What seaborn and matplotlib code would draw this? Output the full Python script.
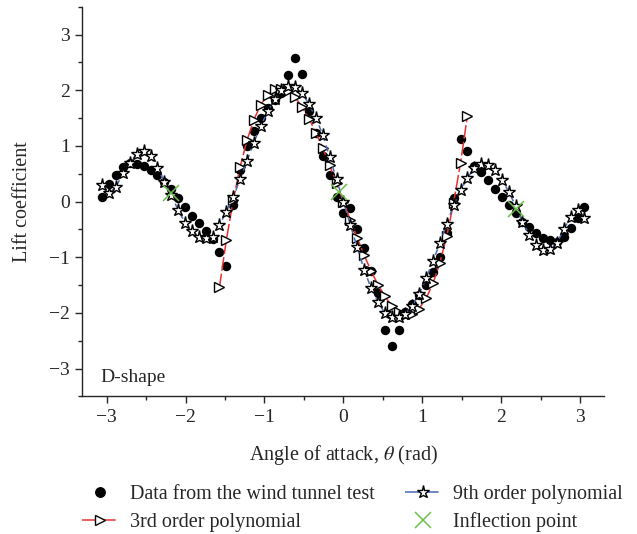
import numpy as np
import matplotlib
matplotlib.use("Agg")
import matplotlib.pyplot as plt
import seaborn as sns
from matplotlib.lines import Line2D
from matplotlib.ticker import MultipleLocator

# angle of attack grid (degrees)
angle_deg = [-175, -170, -165, -160, -155, -150, -145, -140, -135, -130, -125, -120,
             -115, -110, -105, -100, -95, -90, -85, -80, -75, -70, -65, -60,
             -55, -50, -45, -40, -35, -30, -25, -20, -15, -10, -5, 0,
             5, 10, 15, 20, 25, 30, 35, 40, 45, 50, 55, 60,
             65, 70, 75, 80, 85, 90, 95, 100, 105, 110, 115, 120,
             125, 130, 135, 140, 145, 150, 155, 160, 165, 170, 175]

# wind tunnel lift coefficients
cl_tunnel = [0.08, 0.31, 0.48, 0.62, 0.70, 0.68, 0.64, 0.57, 0.48, 0.35, 0.22, 0.06,
             -0.10, -0.25, -0.38, -0.52, -0.67, -0.91, -1.15, -0.06, 0.56, 1.00, 1.26, 1.50,
             1.68, 1.83, 1.95, 2.28, 2.58, 2.30, 1.62, 1.23, 0.82, 0.48, 0.09, -0.21,
             -0.12, -0.50, -0.83, -1.24, -1.64, -2.31, -2.60, -2.30, -1.98, -1.84, -1.68, -1.50,
             -1.26, -0.99, -0.57, 0.06, 1.13, 0.90, 0.64, 0.54, 0.38, 0.23, 0.09, -0.06,
             -0.21, -0.36, -0.46, -0.57, -0.65, -0.69, -0.72, -0.63, -0.48, -0.30, -0.09]

# 9th order polynomial
cl_poly9 = [0.30, 0.15, 0.27, 0.51, 0.70, 0.86, 0.90, 0.81, 0.60, 0.36, 0.12, -0.15,
            -0.38, -0.52, -0.63, -0.66, -0.63, -0.42, -0.18, 0.08, 0.40, 0.73, 1.06, 1.36,
            1.62, 1.85, 2.00, 2.07, 2.05, 1.95, 1.75, 1.50, 1.20, 0.80, 0.40, 0.00,
            -0.42, -0.82, -1.22, -1.55, -1.80, -2.00, -2.08, -2.08, -2.02, -1.87, -1.66, -1.38,
            -1.07, -0.75, -0.40, -0.06, 0.20, 0.42, 0.60, 0.68, 0.66, 0.57, 0.39, 0.18,
            -0.08, -0.36, -0.60, -0.78, -0.87, -0.86, -0.74, -0.50, -0.27, -0.15, -0.30]

# 3rd order polynomial (-90 to 90 degrees)
angle3_deg = [-90, -85, -80, -75, -70, -65, -60, -55, -50, -45, -40, -35, -30,
              -25, -20, -15, -10, -5, 0, 5, 10, 15, 20, 25, 30, 35, 40,
              45, 50, 55, 60, 65, 70, 75, 80, 85, 90]
cl_poly3 = [-1.54, -0.69, 0.02, 0.62, 1.10, 1.47, 1.74, 1.92, 2.02, 2.03, 1.98, 1.87, 1.70,
            1.49, 1.24, 0.96, 0.65, 0.33, 0.00, -0.33, -0.65, -0.96, -1.24, -1.49, -1.70, -1.87, -1.98,
            -2.03, -2.02, -1.92, -1.74, -1.47, -1.10, -0.62, -0.02, 0.69, 1.54]

# inflection points
infl_x = [-2.19, -0.05, 2.19]
infl_y = [0.15, 0.17, -0.14]

RED = "#e8312f"
BLUE = "#4a68b0"
GREEN = "#6cbf4a"

sns.set_style("ticks")
plt.rcParams["font.family"] = ["Liberation Serif", "DejaVu Serif"]
plt.rcParams["mathtext.fontset"] = "stix"

theta = np.deg2rad(angle_deg)
theta3 = np.deg2rad(angle3_deg)

fig = plt.figure(figsize=(6.37, 5.34), dpi=100)
ax = fig.add_axes([0.129, 0.2575, 0.819, 0.73])

sns.scatterplot(x=theta, y=cl_tunnel, ax=ax, color="black", s=46,
                edgecolor="black", linewidth=0, zorder=2)
sns.lineplot(x=theta3, y=cl_poly3, ax=ax, sort=False, color=RED, linewidth=1.1,
             marker=">", markersize=6.5, markerfacecolor="white",
             markeredgecolor="black", markeredgewidth=1.0, zorder=3)
ax.lines[-1].set_dashes((9, 2))
sns.lineplot(x=theta, y=cl_poly9, ax=ax, sort=False, color=BLUE, linewidth=1.1,
             marker="*", markersize=9.5, markerfacecolor="white",
             markeredgecolor="black", markeredgewidth=1.0, zorder=4)
ax.lines[-1].set_dashes((4, 3))
ax.plot(infl_x, infl_y, linestyle="none", marker="x", markersize=12,
        markeredgewidth=1.1, color=GREEN, zorder=5)

ax.set_xlim(-3.31, 3.3)
ax.set_ylim(-3.5, 3.5)
ax.xaxis.set_minor_locator(MultipleLocator(0.5))
ax.yaxis.set_minor_locator(MultipleLocator(0.5))
ax.set_xticks([-3, -2, -1, 0, 1, 2, 3])
ax.set_xticklabels(["\u22123", "\u22122", "\u22121", "0", "1", "2", "3"])
ax.set_yticks([-3, -2, -1, 0, 1, 2, 3])
ax.set_yticklabels(["\u22123", "\u22122", "\u22121", "0", "1", "2", "3"])
ax.tick_params(which="major", direction="out", length=5, width=1, labelsize=14, pad=4)
ax.tick_params(which="minor", direction="out", length=3, width=1)
sns.despine(ax=ax)
for sp in ax.spines.values():
    sp.set_linewidth(1.0)

ax.set_xlabel(r"Angle of attack, $\theta$ (rad)", fontsize=14.5, labelpad=12)
ax.set_ylabel("Lift coefficient", fontsize=14.5, labelpad=12)
ax.text(0.035, 0.048, "D-shape", transform=ax.transAxes, fontsize=14,
        ha="left", va="center")

h_data = Line2D([], [], linestyle="none", marker="o", markersize=6.8, color="black")
h_p3 = Line2D([], [], color=RED, linewidth=1.1, dashes=(10, 2), marker=">", markersize=6.5,
              markerfacecolor="white", markeredgecolor="black")
h_p9 = Line2D([], [], color=BLUE, linewidth=1.1, dashes=(10, 2), marker="*", markersize=9.5,
              markerfacecolor="white", markeredgecolor="black")
h_inf = Line2D([], [], linestyle="none", marker="x", markersize=12, markeredgewidth=1.1,
               color=GREEN)

leg_kw = dict(frameon=False, fontsize=14.5, handlelength=1.75, handletextpad=0.65,
              labelspacing=0.42, borderpad=0, borderaxespad=0, loc="upper left")
leg1 = fig.legend([h_data, h_p3], ["Data from the wind tunnel test", "3rd order polynomial"],
                  bbox_to_anchor=(82 / 637, 1 - 485 / 534), **leg_kw)
leg2 = fig.legend([h_p9, h_inf], ["9th order polynomial", "Inflection point"],
                  bbox_to_anchor=(405 / 637, 1 - 485 / 534), **leg_kw)

fig.savefig("out.png", dpi=100)
